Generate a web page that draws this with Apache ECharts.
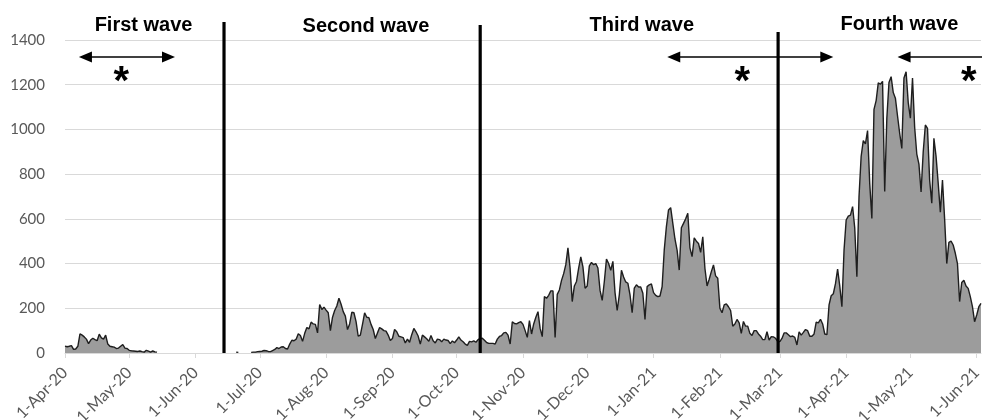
<!DOCTYPE html>
<html><head><meta charset="utf-8">
<script src="https://cdn.jsdelivr.net/npm/echarts@6/dist/echarts.min.js"></script>
<style>html,body{margin:0;padding:0;background:#fff}#c{width:982px;height:420px}</style>
</head><body><div id="c"></div>
<script>
// ---- data ----
const startDate = '2020-04-01';
const dayCount = 429;
const monthNames = ['Jan','Feb','Mar','Apr','May','Jun','Jul','Aug','Sep','Oct','Nov','Dec'];
const yTicks = [0, 200, 400, 600, 800, 1000, 1200, 1400];

// daily values, 1-Apr-20 .. 13-May-20
const wave1Cases = [31,28,30,33,16,18,30,86,80,72, 62,42,58,66,60,55,84,68,62,80, 40,30,28,26,20,22,30,38,22,20, 12,10,9,8,7,9,6,4,12,8, 4,9,5,4];
const gapBeforeBlip = 36;
const blipCases = [4,3];
const gapAfterBlip = 5;
// 27-Jun-20 .. 12-Oct-20
const wave2Cases = [3,4,4,6,7,8,11,10,7,6, 11,16,24,20,27,28,20,18,40,57, 55,62,86,78,52,88,114,108,138,130, 128,90,217,195,205,192,180,100,160,190, 210,245,218,185,165,105,130,182,180,140, 75,80,128,180,160,158,128,105,65,90, 114,108,100,98,80,56,65,105,95,75, 72,69,45,62,48,82,110,95,76,40, 80,72,64,52,78,55,45,62,60,50, 62,58,56,42,54,46,58,72,58,50, 40,34,52,50,54,48,60,65];
// 13-Oct-20 .. 2-Mar-21
const wave3Cases = [66,57,47,43,43,43,40,62,74,78, 90,92,80,40,140,132,130,136,140,128, 100,70,145,85,130,160,185,110,73,252, 245,258,278,278,70,262,282,325,355,395, 470,380,230,300,320,380,430,385,290,300, 390,405,395,400,380,280,235,320,420,400, 370,410,270,190,260,370,340,318,312,260, 180,290,305,295,295,267,150,297,305,309, 270,258,252,255,
 297,461,565,640,650,580,510,460,371,560, 580,600,625,470,431,515,500,490,450,520, 379,300,330,364,394,345,334,200,180,215, 220,207,190,120,130,150,135,88,141,120, 120,88,78,100,100,85,75,60,60,95, 58,73,72,66,52,51,65,90];
// 3-Mar-21 .. 3-Jun-21
const wave4Cases = [90,82,73,76,70,36,95,80,92,105, 100,75,75,85,138,135,151,130,85,82, 215,256,265,310,375,300,207,460,595,612, 617,655,560,341,700,880,950,935,995,760, 602,1090,1129,1208,1202,1215,722,1050,1210,1236, 1165,1140,1060,983,915,1230,1258,1120,1050,1230, 1010,890,845,720,900,1020,1005,774,670,960, 880,760,630,774,600,400,495,500,483,446, 400,230,315,325,300,289,252,207,140,170, 207,222];

// annotations (day offsets from start, values on y scale)
const waveNames = ['First wave', 'Second wave', 'Third wave', 'Fourth wave'];
const waveNameDay = [36.7, 140.6, 269.5, 389.9];
const waveNameValue = [1463, 1461, 1465, 1470];
const dividerDay = [74.3, 194.0, 333.2];
const dividerTop = [1481, 1467, 1436];
const arrowFrom = [6.5, 281.4, 389.0];
const arrowTo = [51.4, 359.0, 428.7];
const arrowHeads = [['l','r'], ['l','r'], ['l']];
const arrowValue = 1324;
const starDay = [26.3, 316.5, 422.3];
const starValue = 1244;

// ---- build ----
const categories = [];
{
  const s = new Date(startDate + 'T00:00:00Z');
  for (let i = 0; i < dayCount; i++) {
    const d = new Date(s.getTime() + i * 86400000);
    categories.push(d.toISOString().slice(0, 10));
  }
}
const nulls = n => Array(n).fill(null);
const seriesData = [].concat(wave1Cases, nulls(gapBeforeBlip), blipCases, nulls(gapAfterBlip), wave2Cases, wave3Cases, wave4Cases);

const isMonthStart = (idx, val) => val.slice(8, 10) === '01';
const fmtDate = val => {
  const y = val.slice(2, 4), m = +val.slice(5, 7), d = +val.slice(8, 10);
  return d + '-' + monthNames[m - 1] + '-' + y;
};
const labelFont = 'Lato';

const chart = echarts.init(document.getElementById('c'), null, {renderer: 'canvas'});
chart.setOption({
  animation: false,
  backgroundColor: '#fff',
  grid: {left: 65, right: 1, top: 40, bottom: 67, containLabel: false, outerBoundsMode: 'none'},
  xAxis: {
    type: 'category',
    data: categories,
    boundaryGap: false,
    axisLine: {lineStyle: {color: '#d9d9d9', width: 1}},
    axisTick: {show: true, interval: isMonthStart, length: 5, lineStyle: {color: '#d9d9d9'}},
    axisLabel: {interval: isMonthStart, formatter: fmtDate, rotate: 45, margin: 17,
      color: '#595959', fontSize: 16, fontFamily: labelFont},
    splitLine: {show: false}
  },
  yAxis: {
    type: 'value',
    min: yTicks[0], max: yTicks[yTicks.length - 1], interval: yTicks[1] - yTicks[0],
    axisLine: {show: false}, axisTick: {show: false},
    axisLabel: {color: '#595959', fontSize: 15, fontFamily: labelFont, margin: 20,
      formatter: v => String(v)},
    splitLine: {lineStyle: {color: '#d9d9d9', width: 1}}
  },
  series: [{
    type: 'line',
    data: seriesData,
    symbol: 'none',
    connectNulls: false,
    lineStyle: {color: '#1e1e1e', width: 1.4},
    areaStyle: {color: '#9c9c9c', opacity: 1},
    z: 2
  }]
});

// annotations positioned through the chart's own scales
const p0 = chart.convertToPixel({gridIndex: 0}, [0, 0]);
const p1 = chart.convertToPixel({gridIndex: 0}, [100, 1000]);
const X = d => p0[0] + (p1[0] - p0[0]) * d / 100;
const Y = v => p0[1] + (p1[1] - p0[1]) * v / 1000;

const g = [];
dividerDay.forEach((d, i) => {
  g.push({type: 'line', z: 10, shape: {x1: X(d), y1: Y(0), x2: X(d), y2: Y(dividerTop[i])},
    style: {stroke: '#000', lineWidth: 3.2}});
});
waveNames.forEach((t, i) => {
  g.push({type: 'text', z: 10, x: X(waveNameDay[i]), y: Y(waveNameValue[i]),
    style: {text: t, fill: '#000', font: 'bold 20px "Liberation Sans", Arial, sans-serif',
      textAlign: 'center', textVerticalAlign: 'middle'}});
});
const headLen = 13, headHalf = 5.5;
arrowFrom.forEach((d, i) => {
  const xa = X(d), xb = X(arrowTo[i]), y = Y(arrowValue);
  const heads = arrowHeads[i];
  g.push({type: 'line', z: 10, shape: {x1: xa + (heads.includes('l') ? 4 : 0), y1: y,
      x2: xb - (heads.includes('r') ? 4 : 0), y2: y},
    style: {stroke: '#000', lineWidth: 1.6}});
  if (heads.includes('l')) g.push({type: 'polygon', z: 10,
    shape: {points: [[xa, y], [xa + headLen, y - headHalf], [xa + headLen, y + headHalf]]},
    style: {fill: '#000'}});
  if (heads.includes('r')) g.push({type: 'polygon', z: 10,
    shape: {points: [[xb, y], [xb - headLen, y - headHalf], [xb - headLen, y + headHalf]]},
    style: {fill: '#000'}});
});
starDay.forEach(d => {
  g.push({type: 'text', z: 10, x: X(d), y: Y(starValue) + 8,
    style: {text: '*', fill: '#000', font: 'bold 40px "Liberation Sans", Arial, sans-serif',
      textAlign: 'center', textVerticalAlign: 'middle'}});
});
chart.setOption({graphic: {elements: g}});
</script>
</body></html>
